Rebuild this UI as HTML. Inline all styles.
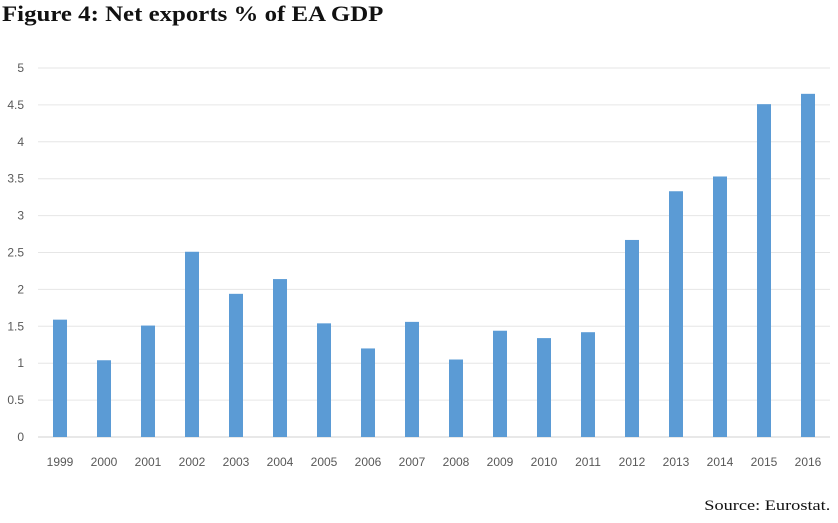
<!DOCTYPE html>
<html><head><meta charset="utf-8"><style>
body{margin:0;background:#fff;width:838px;height:523px;overflow:hidden;position:relative}
.title{position:absolute;left:2px;top:1px;font:bold 22px "Liberation Serif",serif;color:#111;transform:scaleX(1.13);transform-origin:0 0;white-space:nowrap}
.src{position:absolute;right:8px;top:498px;font:15px "Liberation Serif",serif;color:#111;transform:scaleX(1.22);transform-origin:100% 0;white-space:nowrap}
svg{position:absolute;left:0;top:0}
</style></head><body>
<div class="title">Figure 4: Net exports % of EA GDP</div>
<div class="src">Source: Eurostat.</div>
<svg id="c" width="838" height="523"></svg>
<script>
const categories=["1999","2000","2001","2002","2003","2004","2005","2006","2007","2008","2009","2010","2011","2012","2013","2014","2015","2016"];
const values=[1.59,1.04,1.51,2.51,1.94,2.14,1.54,1.2,1.56,1.05,1.44,1.34,1.42,2.67,3.33,3.53,4.51,4.65];
const ticks=[0,0.5,1,1.5,2,2.5,3,3.5,4,4.5,5];
const tickLabels=["0","0.5","1","1.5","2","2.5","3","3.5","4","4.5","5"];
const svg=document.getElementById('c');const NS='http://www.w3.org/2000/svg';
const x0=38,x1=830,y0=437,y1=68;
const y=v=>y0-(v/5)*(y0-y1);
const bw=(x1-x0)/categories.length;
const xc=i=>x0+bw*(i+0.5);
function mk(t,a){const e=document.createElementNS(NS,t);for(const k in a)e.setAttribute(k,a[k]);svg.appendChild(e);return e;}
ticks.forEach((t,i)=>{
  const g=mk('line',{x1:x0,x2:x1,y1:y(t),y2:y(t),stroke:i===0?'#d0d0d0':'#e6e6e6','stroke-width':1});
  
  
  const l=mk('text',{x:24,y:y(t)+4,'text-anchor':'end','font-family':'Liberation Sans,sans-serif','font-size':12,fill:'#595959'});
  l.textContent=tickLabels[i];
  
  
});
categories.forEach((c,i)=>{
  const r=mk('rect',{x:xc(i)-7,y:y(values[i]),width:14,height:y0-y(values[i]),fill:'#5b9bd5'});
  
  
  const l=mk('text',{x:xc(i),y:466,'text-anchor':'middle','font-family':'Liberation Sans,sans-serif','font-size':12,fill:'#595959'});
  l.textContent=c;
  
  
});
</script>
</body></html>
